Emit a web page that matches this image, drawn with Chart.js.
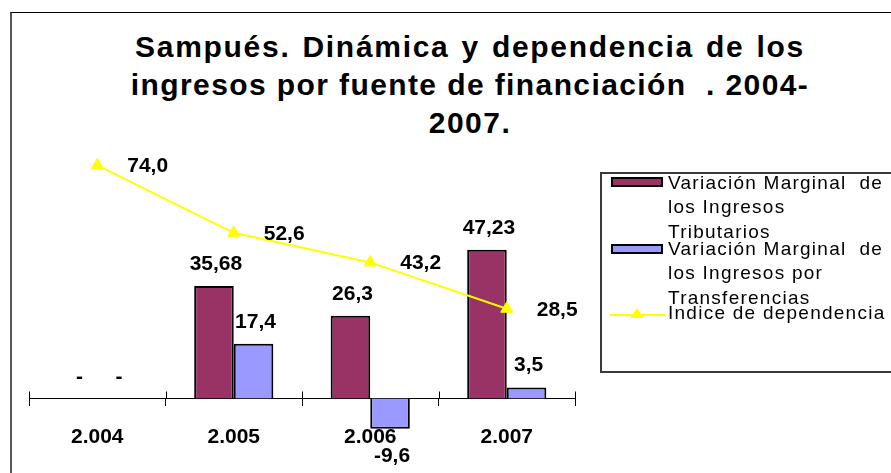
<!DOCTYPE html>
<html lang="es">
<head>
  <meta charset="UTF-8" />
  <title>Sampués - Dinámica y dependencia de los ingresos</title>
  <script src="https://cdn.jsdelivr.net/npm/chart.js"></script>
  <style>
    html, body { margin: 0; padding: 0; background: #fff; }
    body { width: 891px; height: 473px; overflow: hidden; position: relative;
           font-family: "Liberation Sans", Arial, sans-serif; color: #000; }
    #frame { position: absolute; left: 10px; top: 12px; width: 900px; height: 480px;
             border-top: 1px solid #000; border-left: 2px solid #555; }
    #title { position: absolute; left: 0; top: 28px; width: 940px; text-align: center;
             font-weight: bold; font-size: 30px; line-height: 38px; }
    #title div { height: 38px; white-space: pre; }
    #title .l1 { letter-spacing: 1.7px; word-spacing: 2px; }
    #title .l2 { letter-spacing: 1.4px; word-spacing: 0; }
    #title .l3 { letter-spacing: 1.5px; }
    #chart { position: absolute; left: 0; top: 0; }
    #legend { position: absolute; left: 600px; top: 172px; width: 320px; height: 197px;
              border: 2px solid #3a3a3a; background: #fff; }
    .entry { position: absolute; left: 66px; font-size: 19px; line-height: 24.5px;
             letter-spacing: 1.25px; white-space: pre; }
    .swatch { position: absolute; left: 9px; width: 48px; height: 6px; border: 2px solid #000; }
  </style>
</head>
<body>
  <div id="frame"></div>
  <div id="title"><div class="l1">Sampués. Dinámica y dependencia de los</div><div class="l2">ingresos por fuente de financiación  . 2004-</div><div class="l3">2007.</div></div>
  <canvas id="chart" width="891" height="473"></canvas>
  <div id="legend"></div>

  <script>
    // datos
    const categories = ['2.004', '2.005', '2.006', '2.007'];
    const tributarios = [0, 35.68, 26.3, 47.23];
    const transferencias = [0, 17.4, -9.6, 3.5];
    const dependencia = [74.0, 52.6, 43.2, 28.5];

    const seriesNames = [
      'Variación Marginal  de\nlos Ingresos\nTributarios',
      'Variación Marginal  de\nlos Ingresos por\nTransferencias',
      'Indice de dependencia'
    ];
    const colors = ['#993366', '#9999FF', '#FFFF00'];

    const fmt = v => v === 0 ? '-' : String(v).replace('.', ',');

    // etiquetas de datos
    const valueLabels = {
      id: 'valueLabels',
      afterDatasetsDraw(chart) {
        const ctx = chart.ctx;
        ctx.save();
        ctx.fillStyle = '#000';
        ctx.font = 'bold 21px "Liberation Sans", Arial, sans-serif';
        chart.data.datasets.forEach((ds, i) => {
          const meta = chart.getDatasetMeta(i);
          meta.data.forEach((el, j) => {
            const v = ds.data[j];
            if (ds.type === 'line') {
              ctx.textAlign = 'left';
              ctx.textBaseline = 'middle';
              ctx.fillText(v.toFixed(1).replace('.', ','), el.x + 30, el.y + 1);
            } else {
              ctx.textAlign = 'center';
              ctx.textBaseline = 'alphabetic';
              if (v < 0) ctx.fillText(fmt(v), el.x + 2, el.y + 33);
              else ctx.fillText(fmt(v), el.x + 2, el.y - 16);
            }
          });
        });
        ctx.restore();
      }
    };

    // marcas del eje que cruzan la línea
    const crossTicks = {
      id: 'crossTicks',
      afterDraw(chart) {
        const xs = chart.scales.x, ys = chart.scales.y;
        const y0 = ys.getPixelForValue(0);
        const n = categories.length;
        const ctx = chart.ctx;
        ctx.save();
        ctx.strokeStyle = '#000';
        ctx.lineWidth = 1;
        ctx.beginPath();
        for (let i = 0; i <= n; i++) {
          const x = Math.round(xs.left + i * xs.width / n) + 0.5;
          ctx.moveTo(x, y0 - 7);
          ctx.lineTo(x, y0);
        }
        ctx.stroke();
        ctx.restore();
      }
    };

    new Chart(document.getElementById('chart'), {
      type: 'bar',
      data: {
        labels: categories,
        datasets: [
          {
            type: 'line',
            label: seriesNames[2],
            data: dependencia,
            borderColor: colors[2],
            backgroundColor: colors[2],
            borderWidth: 2,
            pointStyle: 'triangle',
            pointRadius: 7,
            pointBorderWidth: 1,
            order: 0
          },
          {
            label: seriesNames[0],
            data: tributarios,
            backgroundColor: colors[0],
            borderColor: '#000',
            borderWidth: 2,
            categoryPercentage: 0.58,
            barPercentage: 1,
            order: 1
          },
          {
            label: seriesNames[1],
            data: transferencias,
            backgroundColor: colors[1],
            borderColor: '#000',
            borderWidth: 2,
            categoryPercentage: 0.58,
            barPercentage: 1,
            order: 1
          }
        ]
      },
      options: {
        responsive: false,
        animation: false,
        layout: { padding: { left: 29, right: 316, top: 146.5, bottom: 11.5 } },
        plugins: {
          legend: { display: false },
          title: { display: false },
          tooltip: { enabled: false }
        },
        scales: {
          x: {
            position: { y: 0 },
            grid: { drawOnChartArea: false, drawTicks: true, tickLength: 7, color: '#000' },
            border: { color: '#000', width: 1 },
            ticks: {
              color: '#000',
              padding: 19,
              font: { family: '"Liberation Sans", Arial, sans-serif', size: 21, weight: 'bold' }
            }
          },
          y: {
            display: false,
            min: -20,
            max: 80
          }
        }
      },
      plugins: [valueLabels, crossTicks]
    });

    // leyenda en HTML
    const legend = document.getElementById('legend');
    const entryTops = [-3.5, 62.5, 126.5];
    seriesNames.forEach((name, i) => {
      const div = document.createElement('div');
      div.className = 'entry';
      div.style.top = entryTops[i] + 'px';
      div.textContent = name;
      legend.appendChild(div);
    });
    // muestras de color
    [[3, 0], [70, 1]].forEach(([top, i]) => {
      const sw = document.createElement('div');
      sw.className = 'swatch';
      sw.style.top = top + 'px';
      sw.style.background = colors[i];
      legend.appendChild(sw);
    });
    const lineSw = document.createElementNS('http://www.w3.org/2000/svg', 'svg');
    lineSw.setAttribute('width', '56');
    lineSw.setAttribute('height', '20');
    lineSw.style.position = 'absolute';
    lineSw.style.left = '8px';
    lineSw.style.top = '131px';
    lineSw.innerHTML = '<line x1="0" y1="10" x2="55" y2="10" stroke="' + colors[2] + '" stroke-width="2"/>' +
      '<polygon points="27,3 34,13 20,13" fill="' + colors[2] + '"/>';
    legend.appendChild(lineSw);
  </script>
</body>
</html>
